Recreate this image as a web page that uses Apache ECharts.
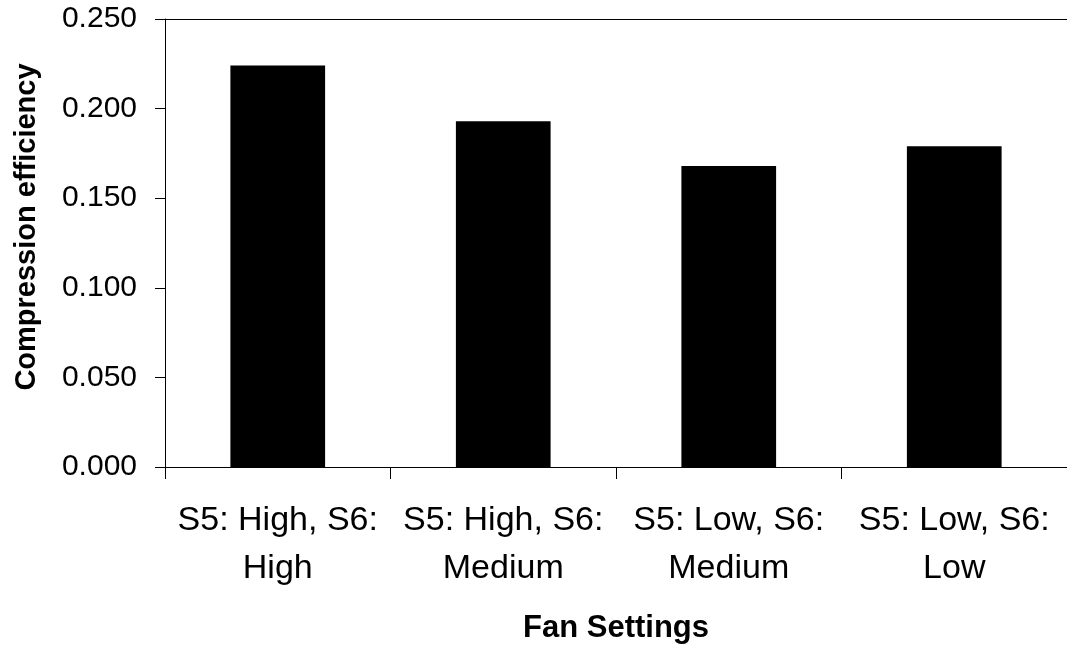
<!DOCTYPE html>
<html>
<head>
<meta charset="utf-8">
<style>
  html, body { margin: 0; padding: 0; background: #fff; }
  #chart { width: 1067px; height: 649px; }
</style>
<script src="https://cdn.jsdelivr.net/npm/echarts@6/dist/echarts.min.js"></script>
</head>
<body>
<div id="chart"></div>
<script>
// Fan setting combinations and measured compression efficiency
const categories = [
  'S5: High, S6:\nHigh',
  'S5: High, S6:\nMedium',
  'S5: Low, S6:\nMedium',
  'S5: Low, S6:\nLow'
];
const efficiency = [0.224, 0.193, 0.168, 0.179];
const yTicks = { min: 0, max: 0.25, interval: 0.05 };

const FONT = '"Liberation Sans", Arial, Helvetica, sans-serif';

const chart = echarts.init(document.getElementById('chart'), null, { renderer: 'canvas' });

chart.setOption({
  animation: false,
  backgroundColor: '#ffffff',
  grid: { left: 165, right: 0, top: 19, bottom: 182, containLabel: false },
  xAxis: [
    {
      type: 'category',
      data: categories,
      position: 'bottom',
      name: 'Fan Settings',
      nameLocation: 'middle',
      nameGap: 146,
      nameTextStyle: { fontFamily: FONT, fontSize: 31, fontWeight: 'bold', color: '#000' },
      axisLine: { lineStyle: { color: '#000', width: 1 } },
      axisTick: { show: true, length: 12, alignWithLabel: false, lineStyle: { color: '#000' } },
      axisLabel: {
        interval: 0,
        margin: 30,
        fontFamily: FONT,
        fontSize: 34,
        lineHeight: 48,
        color: '#000'
      },
      splitLine: { show: false }
    },
    {
      // plot-area top border
      type: 'category',
      data: categories,
      position: 'top',
      axisLine: { show: true, lineStyle: { color: '#000', width: 1 } },
      axisTick: { show: false },
      axisLabel: { show: false },
      splitLine: { show: false }
    }
  ],
  yAxis: {
    type: 'value',
    min: yTicks.min,
    max: yTicks.max,
    interval: yTicks.interval,
    name: 'Compression efficiency',
    nameLocation: 'middle',
    nameRotate: 90,
    nameGap: 124,
    nameTextStyle: {
      fontFamily: FONT, fontSize: 29, fontWeight: 'bold', color: '#000',
      padding: [0, 0, 0, 32]
    },
    axisLine: { show: true, lineStyle: { color: '#000', width: 1 } },
    axisTick: { show: true, length: 10, lineStyle: { color: '#000' } },
    axisLabel: {
      margin: 28,
      fontFamily: FONT,
      fontSize: 30,
      color: '#000',
      padding: [6, 0, 0, 0],
      formatter: v => v.toFixed(3)
    },
    splitLine: { show: false }
  },
  series: [
    {
      type: 'bar',
      data: efficiency,
      xAxisIndex: 0,
      barCategoryGap: '58%',
      itemStyle: { color: '#000' }
    }
  ]
});
</script>
</body>
</html>
